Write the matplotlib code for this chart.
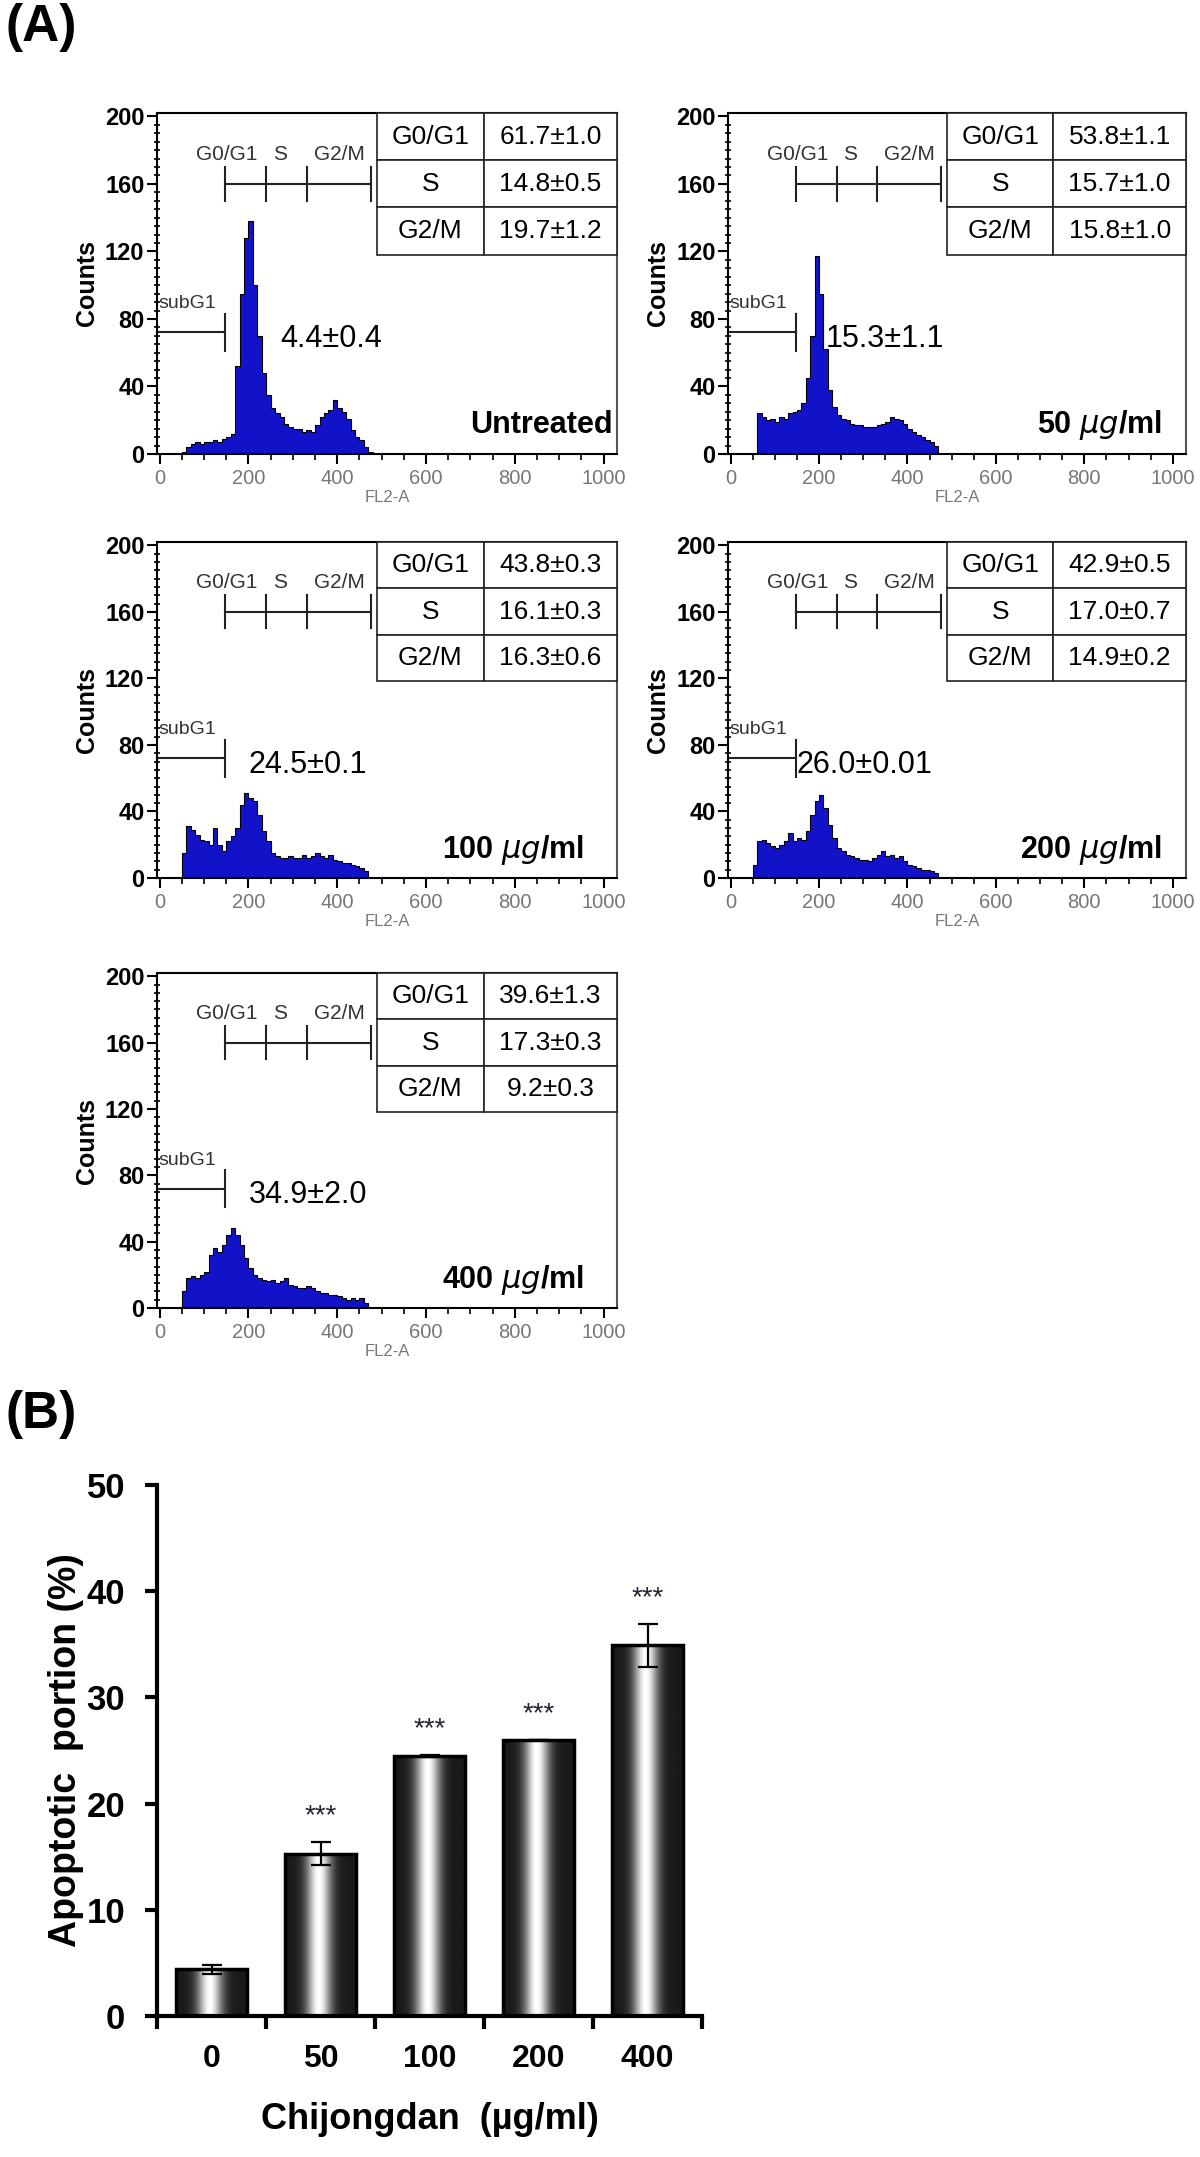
import numpy as np
import matplotlib
matplotlib.use("Agg")
import matplotlib.pyplot as plt
from matplotlib.ticker import MultipleLocator

plt.rcParams['font.family'] = ['Liberation Sans', 'DejaVu Sans']
plt.rcParams['mathtext.fontset'] = 'dejavusans'

# --- data -------------------------------------------------------------
conditions = ["Untreated", r"50 $\mu g$/ml", r"100 $\mu g$/ml",
              r"200 $\mu g$/ml", r"400 $\mu g$/ml"]
subg1_text = ["4.4±0.4", "15.3±1.1", "24.5±0.1", "26.0±0.01", "34.9±2.0"]
g0g1_text = ["61.7±1.0", "53.8±1.1", "43.8±0.3", "42.9±0.5", "39.6±1.3"]
s_text = ["14.8±0.5", "15.7±1.0", "16.1±0.3", "17.0±0.7", "17.3±0.3"]
g2m_text = ["19.7±1.2", "15.8±1.0", "16.3±0.6", "14.9±0.2", "9.2±0.3"]

# FL2-A histogram counts, bins of 10 from 50 to 480
hist_untreated = [1, 4, 6, 7, 6, 7, 7, 8, 7, 9,
                  10, 12, 52, 95, 128, 138, 100, 70, 48, 35,
                  27, 24, 22, 18, 16, 15, 15, 13, 14, 13,
                  17, 22, 24, 26, 32, 27, 25, 21, 14, 10,
                  8, 4, 1]
hist_50 = [0, 24, 22, 20, 21, 19, 22, 21, 24, 25,
           26, 30, 45, 70, 117, 95, 62, 38, 28, 23,
           21, 20, 18, 17, 17, 16, 16, 16, 17, 18,
           19, 22, 21, 20, 18, 15, 13, 11, 10, 8,
           7, 5, 0]
hist_100 = [15, 31, 29, 26, 23, 22, 20, 30, 20, 16,
            22, 25, 30, 44, 51, 48, 46, 38, 28, 22,
            15, 13, 12, 12, 13, 12, 12, 14, 12, 13,
            15, 13, 12, 14, 11, 10, 9, 9, 8, 7,
            6, 4, 0]
hist_200 = [8, 22, 23, 21, 19, 18, 20, 22, 27, 22,
            24, 23, 28, 38, 46, 50, 42, 32, 24, 18,
            16, 14, 13, 12, 11, 11, 10, 12, 14, 16,
            13, 14, 12, 13, 10, 8, 7, 6, 5, 5,
            4, 3, 0]
hist_400 = [10, 18, 19, 18, 20, 22, 32, 36, 34, 38,
            44, 48, 44, 38, 30, 24, 20, 18, 17, 16,
            17, 15, 16, 18, 14, 13, 12, 12, 13, 12,
            10, 9, 9, 8, 8, 7, 6, 5, 6, 5,
            6, 3, 0]
histograms = [hist_untreated, hist_50, hist_100, hist_200, hist_400]

doses = ["0", "50", "100", "200", "400"]
apoptotic_mean = [4.4, 15.3, 24.5, 26.0, 34.9]
apoptotic_err = [0.4, 1.1, 0.1, 0.01, 2.0]
significance = ["", "***", "***", "***", "***"]

# --- layout -----------------------------------------------------------
W, H = 1200, 2157
fig = plt.figure(figsize=(W / 100, H / 100), dpi=100)


def px_axes(left, top, right, bottom):
    return fig.add_axes([left / W, 1 - bottom / H, (right - left) / W, (bottom - top) / H])


panel_boxes = [(157, 113, 617, 454), (728, 113, 1186, 454),
               (157, 542, 617, 878), (728, 542, 1186, 878),
               (157, 973, 617, 1308)]

edges = np.arange(50, 490, 10)
blue = '#1212c8'
gates = [148, 240, 332, 476]
value_x = [272, 215, 200, 150, 200]
cond_x = [1020, 975, 955, 975, 955]

for i, box in enumerate(panel_boxes):
    ax = px_axes(*box)
    counts = histograms[i]
    ax.stairs(counts, edges, fill=True, color=blue, zorder=2)
    ax.stairs(counts, edges, color='black', lw=0.8, zorder=3)
    ax.set_xlim(-6, 1030)
    ax.set_ylim(0, 202)

    ax.xaxis.set_major_locator(MultipleLocator(200))
    ax.xaxis.set_minor_locator(MultipleLocator(50))
    ax.yaxis.set_major_locator(MultipleLocator(40))
    ax.yaxis.set_minor_locator(MultipleLocator(5))
    ax.tick_params(axis='y', which='major', direction='out', length=7, width=1.5,
                   labelsize=17, pad=2)
    ax.tick_params(axis='y', which='minor', direction='inout', length=5, width=1.2)
    ax.tick_params(axis='x', which='major', direction='out', length=7, width=1.5,
                   labelsize=14.5, labelcolor='#777777', pad=4)
    ax.tick_params(axis='x', which='minor', direction='out', length=4, width=1.2)
    for lab in ax.get_yticklabels():
        lab.set_fontweight('bold')
    for side, sp in ax.spines.items():
        sp.set_linewidth(1.5)
    ax.spines['right'].set_color('#555555')
    ax.set_ylabel("Counts", fontsize=18, fontweight='bold', labelpad=4)
    ax.set_xlabel("FL2-A", fontsize=12, color='#777777', labelpad=1)

    # gate markers
    ax.plot([gates[0], gates[-1]], [160, 160], color='#222222', lw=1.5)
    for g in gates:
        ax.plot([g, g], [150, 170], color='#222222', lw=1.5)
    ax.text(152, 172, "G0/G1", fontsize=15, ha='center', va='bottom', color='#333333')
    ax.text(270, 172, "S", fontsize=15, ha='center', va='bottom', color='#333333')
    ax.text(404, 172, "G2/M", fontsize=15, ha='center', va='bottom', color='#333333')
    ax.plot([-6, gates[0]], [72, 72], color='#222222', lw=1.5, clip_on=False)
    ax.plot([gates[0], gates[0]], [61, 83], color='#222222', lw=1.5)
    ax.text(-3, 84, "subG1", fontsize=14, ha='left', va='bottom', color='#333333')

    ax.text(value_x[i], 68, subg1_text[i], fontsize=22, ha='left', va='center')
    ax.text(cond_x[i], 17, conditions[i], fontsize=22, fontweight='bold',
            ha='right', va='center')

    tab = ax.table(cellText=[["G0/G1", g0g1_text[i]], ["S", s_text[i]], ["G2/M", g2m_text[i]]],
                   cellLoc='center', colWidths=[0.445, 0.555],
                   bbox=[0.478, 0.585, 0.522, 0.415], zorder=4)
    tab.auto_set_font_size(False)
    tab.set_fontsize(19)
    for cell in tab.get_celld().values():
        cell.set_linewidth(1.2)
        cell.set_edgecolor('#222222')

fig.text(5 / W, 1 - 3 / H, "(A)", fontsize=37, fontweight='bold', va='top', ha='left')
fig.text(5 / W, 1 - 1390 / H, "(B)", fontsize=37, fontweight='bold', va='top', ha='left')

# --- bar chart (B) ----------------------------------------------------
bx = px_axes(157, 1485, 702, 2016)
xpos = np.arange(len(doses))
bars = bx.bar(xpos, apoptotic_mean, width=0.66, facecolor='none', edgecolor='black',
              linewidth=2.5, zorder=3)
t = np.linspace(0, 1, 256)
profile = 0.1 + 0.9 * np.exp(-((t - 0.47) / 0.17) ** 2)
grad = profile[np.newaxis, :]
for b in bars:
    x0, w, h = b.get_x(), b.get_width(), b.get_height()
    im = bx.imshow(grad, cmap='gray', vmin=0, vmax=1, aspect='auto',
                   extent=[x0, x0 + w, 0, h], zorder=2, interpolation='bilinear')
    im.set_clip_path(b)
bx.errorbar(xpos, apoptotic_mean, yerr=apoptotic_err, fmt='none', ecolor='black',
            elinewidth=1.6, capsize=7, capthick=1.6, zorder=4)
for x, m, e, s in zip(xpos, apoptotic_mean, apoptotic_err, significance):
    if s:
        bx.text(x, m + e + 2.4, s, ha='center', va='center', fontsize=20, color='#222233')

bx.set_xlim(-0.5, 4.5)
bx.set_ylim(0, 50)
bx.set_xticks(xpos, doses)
bx.set_xticks(np.arange(-0.5, 5.0, 1.0), minor=True)
bx.tick_params(axis='x', which='major', length=0, labelsize=23, pad=20)
bx.tick_params(axis='x', which='minor', direction='out', length=9, width=3)
bx.yaxis.set_major_locator(MultipleLocator(10))
bx.tick_params(axis='y', which='major', direction='out', length=9, width=3,
               labelsize=25, pad=14)
for lab in bx.get_xticklabels() + bx.get_yticklabels():
    lab.set_fontweight('bold')
bx.spines['top'].set_visible(False)
bx.spines['right'].set_visible(False)
bx.spines['left'].set_linewidth(3)
bx.spines['bottom'].set_linewidth(3)
bx.set_xlabel("Chijongdan  (µg/ml)", fontsize=26, fontweight='bold', labelpad=20)
bx.set_ylabel("Apoptotic  portion (%)", fontsize=27, fontweight='bold', labelpad=2)

fig.savefig("out.png", dpi=100)
